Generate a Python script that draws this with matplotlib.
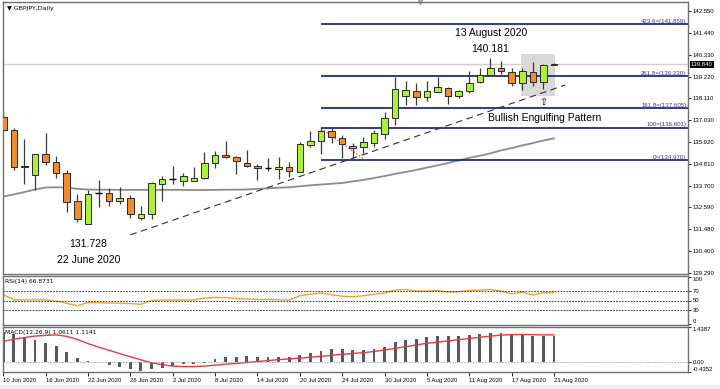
import matplotlib
matplotlib.use("Agg")
import matplotlib.pyplot as plt
import numpy as np
import pandas as pd
from matplotlib.patches import Rectangle
from matplotlib.transforms import blended_transform_factory

plt.rcParams["font.family"] = ["Liberation Sans", "DejaVu Sans"]

# sessoes diarias GBPJPY (10 Jun - 21 Ago 2020)
dates = pd.bdate_range("2020-06-10", "2020-08-21")

opens = [137.19, 136.51, 134.63, 134.22, 135.28, 134.89, 134.32, 132.92, 131.75, 133.31,
         133.31, 132.94, 133.09, 132.06, 132.26, 133.78, 134.03, 133.95, 133.95, 134.07,
         134.83, 135.23, 135.15, 134.83, 134.67, 134.57, 134.55, 134.66, 134.39, 135.75,
         135.96, 136.48, 136.12, 135.59, 135.67, 135.87, 136.31, 137.135, 138.23, 138.50,
         138.17, 138.45, 138.65, 138.25, 138.50, 138.96, 139.30, 139.67, 139.46, 138.88,
         139.46, 138.96, 139.81]
highs = [137.44, 136.60, 136.04, 135.32, 136.35, 135.20, 134.49, 133.26, 133.47, 133.98,
         133.56, 133.61, 133.22, 132.68, 133.90, 134.18, 134.69, 134.35, 134.66, 135.41,
         135.46, 135.96, 135.18, 135.50, 134.79, 135.08, 135.16, 134.91, 135.92, 136.48,
         136.68, 136.65, 136.26, 135.87, 136.14, 136.51, 137.44, 139.21, 139.01, 138.88,
         139.01, 139.21, 138.67, 138.52, 139.50, 139.63, 140.181, 140.02, 139.67, 139.63,
         139.97, 139.85, 139.89]
lows = [136.47, 134.49, 133.78, 133.48, 134.73, 134.07, 132.38, 131.87, 131.728, 132.60,
        132.67, 132.77, 132.07, 131.96, 132.01, 132.93, 133.78, 133.68, 133.92, 134.05,
        134.57, 135.10, 134.29, 134.62, 133.98, 134.45, 134.03, 134.12, 134.37, 135.64,
        135.30, 135.84, 135.08, 135.08, 135.33, 135.67, 136.04, 136.77, 137.76, 137.78,
        138.00, 138.42, 137.83, 138.12, 138.37, 138.91, 139.28, 139.35, 138.74, 138.54,
        138.74, 138.57, 139.79]
closes = [136.51, 134.63, 134.70, 135.30, 134.89, 134.32, 132.88, 132.01, 133.27, 133.31,
          132.92, 133.09, 132.25, 132.28, 133.82, 134.05, 134.03, 134.17, 134.08, 134.83,
          135.23, 135.13, 134.93, 134.69, 134.59, 134.57, 134.66, 134.45, 135.79, 135.97,
          136.46, 136.14, 135.79, 135.70, 135.92, 136.34, 137.135, 138.57, 138.54, 138.17,
          138.49, 138.70, 138.25, 138.50, 138.91, 139.32, 139.67, 139.50, 138.88, 139.51,
          138.96, 139.80, 139.87]
ma = [133.14, 133.25, 133.37, 133.50, 133.60, 133.61, 133.60, 133.53, 133.50, 133.49,
      133.49, 133.48, 133.48, 133.48, 133.48, 133.48, 133.48, 133.48, 133.47, 133.47,
      133.48, 133.49, 133.49, 133.50, 133.53, 133.56, 133.59, 133.61, 133.66, 133.71,
      133.75, 133.79, 133.83, 133.91, 133.98, 134.08, 134.18, 134.29, 134.39, 134.49,
      134.61, 134.72, 134.84, 134.97, 135.10, 135.21, 135.33, 135.48, 135.60, 135.73,
      135.85, 135.98, 136.09]
rsi = [62, 52, 51, 51.5, 51, 49, 44, 39, 45.5, 45.5,
       44.5, 44.5, 43.5, 42, 50, 51, 51, 51, 51, 55,
       56.5, 56, 54, 53, 52.5, 52, 51.5, 51, 60, 63,
       66, 62, 59, 58, 60, 63, 66, 72, 73, 70,
       70, 71, 67.5, 68.5, 71, 72, 73, 70, 64, 67.5,
       61.5, 66, 66.9]
macd_hist = [1.22, 1.14, 1.04, 0.90, 0.79, 0.65, 0.41, 0.14, 0.04, -0.03,
             -0.14, -0.21, -0.31, -0.38, -0.32, -0.25, -0.18, -0.11, -0.10, -0.06,
             0.10, 0.18, 0.20, 0.23, 0.20, 0.20, 0.20, 0.18, 0.27, 0.35,
             0.45, 0.51, 0.51, 0.48, 0.48, 0.51, 0.59, 0.83, 0.90, 0.94,
             1.01, 1.06, 1.06, 1.08, 1.09, 1.15, 1.18, 1.18, 1.14, 1.14,
             1.08, 1.08, 1.06]
macd_signal = [0.84, 0.93, 1.00, 1.06, 1.09, 1.11, 1.05, 0.92, 0.75, 0.60,
               0.47, 0.33, 0.20, 0.07, -0.05, -0.13, -0.19, -0.21, -0.21, -0.19,
               -0.15, -0.11, -0.08, -0.04, 0.00, 0.04, 0.08, 0.11, 0.14, 0.18,
               0.22, 0.26, 0.30, 0.34, 0.37, 0.42, 0.48, 0.55, 0.62, 0.69,
               0.76, 0.81, 0.86, 0.91, 0.96, 1.01, 1.06, 1.10, 1.12, 1.13,
               1.12, 1.11, 1.11]

fib_names = ["423.6", "261.8", "161.8", "100", "0"]
fib_levels = [141.859, 139.230, 137.605, 136.601, 134.976]
price_ticks = [129.290, 130.400, 131.480, 132.590, 133.700, 134.810, 135.920,
               137.030, 138.110, 139.220, 140.330, 141.440, 142.550]
last_price = 139.840
rsi_ticks = [100, 70, 50, 30, 0]
tick_dates = ["2020-06-10", "2020-06-16", "2020-06-22", "2020-06-26", "2020-07-02",
              "2020-07-08", "2020-07-14", "2020-07-20", "2020-07-24", "2020-07-30",
              "2020-08-05", "2020-08-11", "2020-08-17", "2020-08-21"]

W, H = 720, 389
GREEN, ORANGE, EDGE = "#aef033", "#f28a2e", "#2a2a2a"
FIB = "#1f2a8a"
XMAX = 64.65


def caixa(x0, y0, x1, y1):
    # pixels (origem no topo) -> fracao da figura
    return [x0 / W, 1 - y1 / H, (x1 - x0) / W, (y1 - y0) / H]


fig = plt.figure(figsize=(W / 100, H / 100), dpi=100)
fig.patches.append(Rectangle((0, 0), 1, 4 / H, transform=fig.transFigure,
                             color="#efefef", zorder=-1))
ax = fig.add_axes(caixa(2.7, 1.5, 688, 274))
ax_rsi = fig.add_axes(caixa(2.7, 276, 688, 325), sharex=ax)
ax_macd = fig.add_axes(caixa(2.7, 327, 688, 372), sharex=ax)

x = np.arange(len(dates))

# --- painel de precos
ax.axhline(last_price, color="#cfcfcf", lw=1, zorder=0)
ax.add_patch(Rectangle((48.85, 138.25), 52.05 - 48.85, 140.36 - 138.25,
                       facecolor="#d9d9d9", edgecolor="none", zorder=0.5))
ax.plot(x, ma, color="#8c8c8c", lw=1.3, zorder=1)
ax.plot([12.0, 53.05], [131.20, 138.79], color="#303030", lw=0.8,
        ls=(0, (6, 4)), zorder=1)
ax.hlines(fib_levels, 30, XMAX, color=FIB, lw=1.3, zorder=1)
for nome, nivel in zip(fib_names, fib_levels):
    ax.text(XMAX - 0.15, nivel + 0.04, f"{nome}=({nivel:.3f})", ha="right",
            va="bottom", fontsize=4.4, color="#3434a8")
ax.plot([30, 34.2], [136.601, 134.976], color="#e05050", lw=0.8,
        ls=(0, (1.5, 1.5)), zorder=1)

for i, o, h, l, c in zip(x, opens, highs, lows, closes):
    ax.vlines(i, l, h, color="#3a3a3a", lw=0.9, zorder=2)
    if o == c:
        ax.hlines(c, i - 0.31, i + 0.31, color="black", lw=1.0, zorder=3)
        continue
    cor = GREEN if c > o else ORANGE
    ax.add_patch(Rectangle((i - 0.31, min(o, c)), 0.62, abs(c - o),
                           facecolor=cor, edgecolor=EDGE, lw=0.7, zorder=3))

ax.text(46.07, 141.42, "13 August 2020", ha="center", va="center", fontsize=7.5)
ax.text(45.97, 140.61, "140.181", ha="center", va="center", fontsize=7.5)
ax.text(51.07, 137.12, "Bullish Engulfing Pattern", ha="center", va="center",
        fontsize=7.5)
ax.text(51.0, 137.94, "\u21e7", ha="center", va="center", fontsize=7,
        family=["DejaVu Sans"])
ax.text(8.05, 130.73, "131.728", ha="center", va="center", fontsize=7.5)
ax.text(8.05, 129.93, "22 June 2020", ha="center", va="center", fontsize=7.5)
ax.text(0.006, 0.985, "\u25bc GBPJPY,Daily", transform=ax.transAxes, ha="left",
        va="top", fontsize=4.5, family=["DejaVu Sans"])
ax.plot(39.37, 142.98, marker="v", color="#a8a8a8", ms=3, clip_on=False)

ax.set_xlim(-0.05, XMAX)
ax.set_ylim(129.22, 143.02)
ax.set_yticks(price_ticks)
ax.set_yticklabels([f"{p:.3f}" for p in price_ticks])
trans = blended_transform_factory(ax.transAxes, ax.transData)
ax.text(1.004, last_price, f"{last_price:.3f}", transform=trans, ha="left",
        va="center", fontsize=4.3, color="white",
        bbox=dict(boxstyle="square,pad=0.15", fc="black", ec="none"))

# --- RSI
ax_rsi.plot(x, rsi, color="#f0a030", lw=1)
for nivel in (70, 50, 30):
    ax_rsi.axhline(nivel, color="#202020", lw=0.6, ls=(0, (2, 1.5)))
ax_rsi.set_ylim(-1.6, 101.6)
ax_rsi.set_yticks(rsi_ticks)
ax_rsi.set_yticklabels([str(v) for v in rsi_ticks])
ax_rsi.text(0.004, 0.94, "RSI(14) 66.8731", transform=ax_rsi.transAxes,
            ha="left", va="top", fontsize=4.3, family=["DejaVu Sans"])

# --- MACD
ax_macd.bar(x, macd_hist, width=0.27, color="#5a5a5a")
ax_macd.plot(x, macd_signal, color="#e8393f", lw=1)
ax_macd.axhline(0, color="#a0a0a0", lw=0.6, ls=(0, (2, 1.5)))
ax_macd.set_ylim(-0.4352, 1.4387)
ax_macd.set_yticks([1.4387, 0, -0.4352])
ax_macd.set_yticklabels(["1.4387", "0.00", "-0.4352"])
ax_macd.text(0.004, 0.94, "MACD(12,26,9) 1.0611 1.1141",
             transform=ax_macd.transAxes, ha="left", va="top", fontsize=4.3,
             family=["DejaVu Sans"])

pos = [dates.get_loc(pd.Timestamp(d)) for d in tick_dates]
ax_macd.set_xticks(pos)
ax_macd.set_xticklabels([pd.Timestamp(d).strftime("%-d %b %Y") for d in tick_dates])
for lab in ax_macd.get_xticklabels():
    lab.set_ha("left")

for a in (ax, ax_rsi, ax_macd):
    for s in a.spines.values():
        s.set_color("#707070")
        s.set_linewidth(1.0)
    a.yaxis.tick_right()
    a.tick_params(axis="y", length=2, width=0.6, labelsize=4.3, pad=1.5)
    a.tick_params(axis="x", bottom=False, labelbottom=False)
ax_macd.tick_params(axis="x", bottom=True, labelbottom=True, length=3,
                    width=0.6, labelsize=4.3, pad=1.0)
for a in (ax_rsi, ax_macd):
    labs = a.get_yticklabels()
    labs[0].set_va("top")
    labs[-1].set_va("bottom")

fig.savefig("out.png", dpi=100)
plt.close(fig)
